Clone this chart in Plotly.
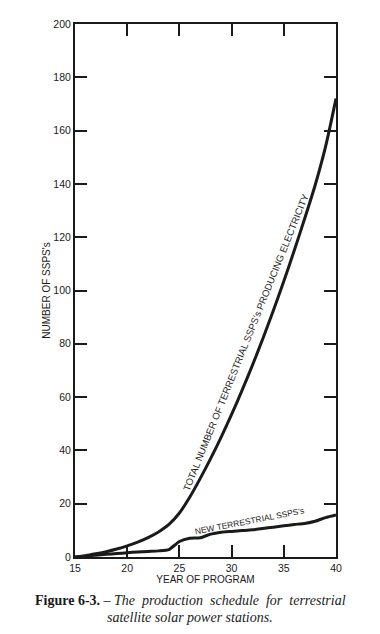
import plotly.graph_objects as go

years = [15, 16, 17, 18, 19, 20, 21, 22, 23, 24, 25, 26, 27, 28, 29, 30, 31, 32, 33, 34, 35, 36, 37, 38, 39, 40]
total_ssps = [0, 0.5, 1.2, 2.0, 3.0, 4.2, 5.6, 7.3, 9.4, 12.2, 16.5, 22.5, 29.5, 37, 45, 53.5, 62.5, 72, 82, 92.5, 103.5, 115, 127, 139.5, 154, 172]
new_ssps = [0, 0.3, 0.7, 1.0, 1.3, 1.6, 1.9, 2.1, 2.3, 2.8, 5.8, 7.0, 7.2, 8.6, 9.3, 9.6, 9.9, 10.2, 10.7, 11.2, 11.7, 12.2, 12.6, 13.4, 14.8, 15.8]

x_ticks = [15, 20, 25, 30, 35, 40]
y_ticks = [0, 20, 40, 60, 80, 100, 120, 140, 160, 180, 200]

label_total = "TOTAL NUMBER OF TERRESTRIAL SSPS's PRODUCING ELECTRICITY"
label_new = "NEW TERRESTRIAL SSPS's"
x_title = "YEAR OF PROGRAM"
y_title = "NUMBER OF SSPS's"
caption1 = ("<b>Figure 6-3.</b> – <i>The&nbsp; production&nbsp; schedule&nbsp; "
            "for&nbsp; terrestrial</i>")
caption2 = "<i>satellite solar power stations.</i>"

SANS = "Liberation Sans, Arial, sans-serif"
SERIF = "Liberation Serif, Times New Roman, serif"
INK = "#1a1a1a"

fig = go.Figure()
fig.add_trace(go.Scatter(x=years, y=total_ssps, mode="lines",
                         line=dict(color=INK, width=3, shape="spline", smoothing=0.8),
                         showlegend=False, hoverinfo="skip"))
fig.add_trace(go.Scatter(x=years, y=new_ssps, mode="lines",
                         line=dict(color=INK, width=3, shape="spline", smoothing=0.6),
                         showlegend=False, hoverinfo="skip"))

fig.add_annotation(x=31.35, y=80.5, xref="x", yref="y", text=label_total, showarrow=False,
                   textangle=-68, font=dict(family=SANS, size=9.6, color=INK))
fig.add_annotation(x=31.7, y=13.4, xref="x", yref="y", text=label_new, showarrow=False,
                   textangle=-11, font=dict(family=SANS, size=8.5, color=INK))

fig.add_annotation(x=0.444, y=-0.0807, xref="paper", yref="paper", text=caption1, showarrow=False,
                   xanchor="center", yanchor="middle", font=dict(family=SERIF, size=14, color=INK))
fig.add_annotation(x=0.44, y=-0.1126, xref="paper", yref="paper", text=caption2, showarrow=False,
                   xanchor="center", yanchor="middle", font=dict(family=SERIF, size=14, color=INK))

axis_common = dict(showline=True, linecolor=INK, linewidth=2, mirror="ticks",
                   ticks="inside", ticklen=12, tickwidth=1.5, tickcolor=INK,
                   showgrid=False, zeroline=False,
                   tickfont=dict(family=SANS, size=10.5, color=INK))

fig.update_xaxes(range=[15, 40], tickvals=x_ticks, ticktext=[str(v) for v in x_ticks],
                 title=dict(text=x_title, font=dict(family=SANS, size=10, color=INK), standoff=2),
                 **axis_common)
fig.update_yaxes(range=[0, 200], tickvals=y_ticks, ticktext=[str(v) for v in y_ticks],
                 title=dict(text=y_title, font=dict(family=SANS, size=10, color=INK), standoff=1),
                 **axis_common)

fig.update_layout(width=380, height=634, margin=dict(l=75, r=44, t=24, b=77),
                  paper_bgcolor="white", plot_bgcolor="white")

fig.write_html("out.html", config={"displayModeBar": False},
               post_script="document.body.style.margin='0';document.body.style.overflow='hidden';")
